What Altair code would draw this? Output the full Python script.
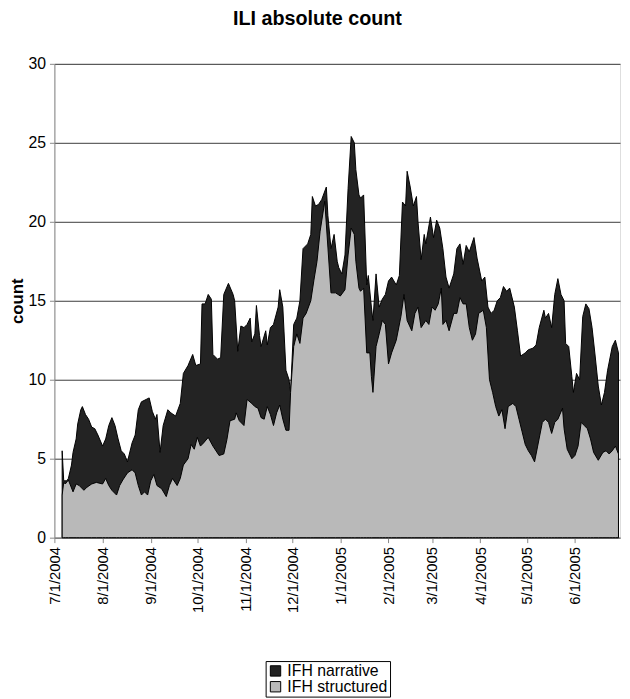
import altair as alt
import pandas as pd

# Day offsets from 7/1/2004 and counts
narrative_day = [5, 6, 8, 9, 11, 12, 14, 15, 17, 18, 20, 22, 24, 26, 28, 31, 33, 35, 37, 39,
                 41, 43, 45, 47, 50, 52, 54, 56, 59, 61, 63, 65, 66, 68, 70, 73, 75, 78, 81, 83,
                 86, 89, 91, 94, 95, 97, 99, 101, 102, 105, 107, 109, 112, 115, 116, 118, 120, 122, 124, 126,
                 127, 129, 130, 132, 133, 136, 137, 139, 141, 144, 145, 147, 149, 151, 152, 154, 156, 158, 160, 163,
                 165, 166, 168, 170, 172, 175, 176, 178, 180, 182, 183, 185, 187, 189, 191, 193, 194, 196, 197, 199,
                 201, 202, 204, 205, 207, 209, 211, 213, 215, 217, 220, 222, 224, 226, 227, 229, 231, 233, 234, 236,
                 238, 239, 242, 244, 246, 248, 250, 252, 254, 257, 259, 261, 263, 265, 267, 270, 272, 275, 277, 279,
                 281, 283, 285, 287, 289, 291, 293, 296, 298, 300, 303, 305, 308, 310, 312, 315, 316, 318, 320, 322,
                 324, 326, 328, 329, 331, 333, 334, 336, 338, 340, 342, 344, 346, 348, 350, 352, 354, 356, 359, 361,
                 363]
narrative_count = [5.5, 3.6, 3.6, 3.75, 4.6, 5.4, 6.25, 7.2, 8.1, 8.3, 7.8, 7.5, 7.0, 6.9, 6.5, 5.8, 6.25, 7.1, 7.6, 7.1,
                   6.25, 5.5, 5.3, 4.8, 6.0, 6.5, 8.1, 8.6, 8.75, 8.85, 8.0, 7.5, 7.8, 5.4, 7.1, 8.1, 7.9, 7.7, 8.5, 10.4,
                   10.9, 11.6, 10.9, 11.0, 14.8, 14.8, 15.4, 15.1, 11.6, 11.3, 11.4, 15.4, 16.1, 15.4, 15.0, 11.8, 13.4, 13.3, 13.5, 13.9,
                   12.4, 12.9, 14.7, 12.8, 12.1, 13.1, 12.2, 13.3, 13.5, 14.6, 15.7, 14.6, 10.6, 10.0, 9.2, 13.5, 13.9, 15.0, 18.3, 18.6,
                   19.2, 21.6, 21.0, 21.1, 21.4, 22.2, 20.4, 18.3, 19.2, 17.5, 17.1, 16.7, 17.9, 22.1, 25.4, 25.0, 23.3, 21.7, 21.5, 21.7,
                   16.0, 16.6, 14.6, 13.75, 16.7, 14.6, 15.1, 15.4, 16.25, 16.5, 16.0, 16.6, 21.25, 21.0, 23.2, 22.2, 21.0, 21.6, 20.0, 17.6,
                   19.2, 18.6, 20.3, 19.0, 20.1, 19.6, 18.3, 16.5, 15.8, 16.7, 18.3, 18.6, 17.3, 18.5, 18.1, 19.0, 17.7, 16.25, 16.5, 14.6,
                   14.2, 14.4, 15.0, 15.2, 15.9, 15.6, 15.8, 14.6, 13.1, 11.5, 11.7, 11.9, 12.0, 12.2, 13.3, 14.4, 13.9, 14.2, 13.3, 15.4,
                   16.4, 15.4, 15.0, 12.3, 12.1, 10.2, 9.2, 10.4, 10.0, 14.0, 14.8, 14.5, 13.3, 11.5, 9.6, 8.4, 9.2, 10.6, 12.1, 12.5,
                   11.7]

structured_day = [5, 6, 7, 9, 12, 14, 16, 19, 21, 24, 27, 31, 33, 35, 37, 40, 42, 44, 47, 50,
                  52, 54, 56, 58, 60, 62, 64, 66, 69, 72, 74, 76, 79, 81, 83, 86, 88, 90, 92, 94,
                  96, 99, 102, 106, 109, 111, 113, 116, 117, 119, 122, 124, 127, 129, 131, 133, 135, 137, 139, 141,
                  143, 145, 147, 149, 151, 152, 154, 156, 158, 160, 162, 165, 167, 169, 171, 174, 176, 178, 181, 184,
                  187, 189, 191, 193, 194, 196, 197, 199, 201, 203, 204, 205, 207, 209, 211, 213, 215, 217, 220, 223,
                  225, 227, 230, 232, 234, 236, 239, 241, 243, 245, 247, 249, 250, 252, 254, 257, 259, 261, 263, 265,
                  267, 269, 271, 273, 276, 278, 280, 282, 284, 286, 288, 290, 292, 295, 297, 299, 301, 303, 305, 307,
                  309, 311, 314, 316, 318, 320, 322, 324, 327, 328, 330, 333, 335, 337, 339, 341, 343, 345, 347, 350,
                  353, 355, 357, 359, 361, 363]
structured_count = [2.7, 3.5, 3.4, 3.65, 2.9, 3.4, 3.3, 3.0, 3.2, 3.4, 3.5, 3.4, 3.75, 3.3, 3.0, 2.7, 3.3, 3.65, 4.1, 4.3,
                    4.1, 3.3, 2.7, 2.9, 2.7, 3.6, 4.0, 3.3, 3.1, 2.6, 3.3, 3.75, 3.3, 3.75, 4.6, 5.0, 5.9, 5.6, 6.35, 5.8,
                    6.0, 6.35, 5.8, 5.2, 5.3, 6.2, 7.4, 7.5, 7.9, 7.4, 7.1, 8.75, 8.5, 8.3, 8.2, 7.6, 7.5, 8.3, 7.8, 7.1,
                    7.9, 8.4, 7.5, 6.8, 6.8, 9.2, 12.1, 12.9, 12.3, 13.9, 14.2, 15.0, 16.3, 17.5, 19.4, 21.3, 18.4, 15.5, 15.5, 15.3,
                    15.7, 17.9, 19.6, 19.2, 17.5, 15.8, 15.6, 15.8, 11.7, 11.7, 10.2, 9.2, 12.1, 12.9, 13.75, 13.5, 11.0, 11.7, 12.5, 14.0,
                    15.4, 13.75, 13.1, 14.2, 14.6, 13.3, 13.75, 13.5, 14.6, 14.4, 14.8, 15.8, 13.5, 13.75, 13.1, 14.2, 14.2, 15.2, 14.8, 14.8,
                    13.3, 12.5, 12.9, 14.2, 14.4, 13.3, 10.0, 9.2, 8.3, 7.7, 8.1, 6.9, 8.3, 8.5, 8.3, 7.5, 6.7, 5.9, 5.5, 5.2,
                    4.8, 5.8, 7.3, 7.5, 7.3, 6.6, 7.3, 7.5, 8.2, 6.9, 5.6, 5.0, 5.2, 5.8, 7.3, 7.1, 6.9, 6.25, 5.4, 4.9,
                    5.4, 5.5, 5.3, 5.5, 5.8, 5.3]

series_names = ["IFH narrative", "IFH structured"]
series_colors = ["#232323", "#b9b9b9"]
y_ticks = [0, 5, 10, 15, 20, 25, 30]
month_ticks = [(2004, 7), (2004, 8), (2004, 9), (2004, 10), (2004, 11), (2004, 12),
               (2005, 1), (2005, 2), (2005, 3), (2005, 4), (2005, 5), (2005, 6)]

start = pd.Timestamp("2004-07-01")


def frame(days, counts, name):
    return pd.DataFrame({
        "date": [(start + pd.Timedelta(days=d)).strftime("%Y-%m-%d") for d in days],
        "count": counts,
        "series": name,
    })


narr_df = frame(narrative_day, narrative_count, series_names[0])
struct_df = frame(structured_day, structured_count, series_names[1])

FONT = "Liberation Sans"

x_enc = alt.X(
    "date:T",
    scale=alt.Scale(type="utc",
                    domain=[alt.DateTime(year=2004, month=7, date=1, utc=True),
                            alt.DateTime(year=2005, month=6, date=30, utc=True)]),
    axis=alt.Axis(
        values=[alt.DateTime(year=y, month=m, date=1, utc=True) for y, m in month_ticks],
        labelExpr="utcFormat(datum.value, '%-m/%-d/%Y')", labelAngle=270, title=None,
        grid=False, tickSize=5, labelPadding=4, labelFontSize=15,
    ),
)
y_enc = alt.Y(
    "count:Q", stack=None,
    scale=alt.Scale(domain=[0, 30], nice=False),
    axis=alt.Axis(values=y_ticks, title="count", grid=True, gridColor="#3a3a3a",
                  gridWidth=1, tickSize=5, labelPadding=4, labelFontSize=16,
                  titleFontSize=17, titleFontWeight="bold", titlePadding=2),
)
color_enc = alt.Color(
    "series:N",
    scale=alt.Scale(domain=series_names, range=series_colors),
    legend=alt.Legend(title=None, orient="none", legendX=214, legendY=605,
                      direction="vertical", strokeColor="black", padding=2,
                      symbolType="square", symbolSize=110, symbolStrokeColor="black",
                      symbolStrokeWidth=1, labelFontSize=16, labelFont=FONT,
                      rowPadding=0, fillColor="white", labelOffset=4),
)

area_mark = dict(stroke="black", strokeWidth=1, opacity=1, interpolate="linear")

narr = alt.Chart(narr_df).mark_area(**area_mark).encode(x=x_enc, y=y_enc, color=color_enc)
struct = alt.Chart(struct_df).mark_area(**area_mark).encode(x=x_enc, y=y_enc, color=color_enc)

chart = alt.layer(narr, struct).properties(
    width=573, height=480,
    title=alt.Title("ILI absolute count", fontSize=20, fontWeight="bold", font=FONT,
                    anchor="middle", offset=27, dx=-20, color="black"),
    autosize=alt.AutoSizeParams(type="none"),
    padding={"left": 47, "top": 52, "right": 2, "bottom": 170},
).configure_view(
    stroke="#808080", strokeWidth=1
).configure_axis(
    domainColor="black", tickColor="black", labelColor="black", titleColor="black",
    labelFont=FONT, titleFont=FONT,
).configure(background="white")

chart.save("out.html", embed_options={"renderer": "svg", "actions": False})
